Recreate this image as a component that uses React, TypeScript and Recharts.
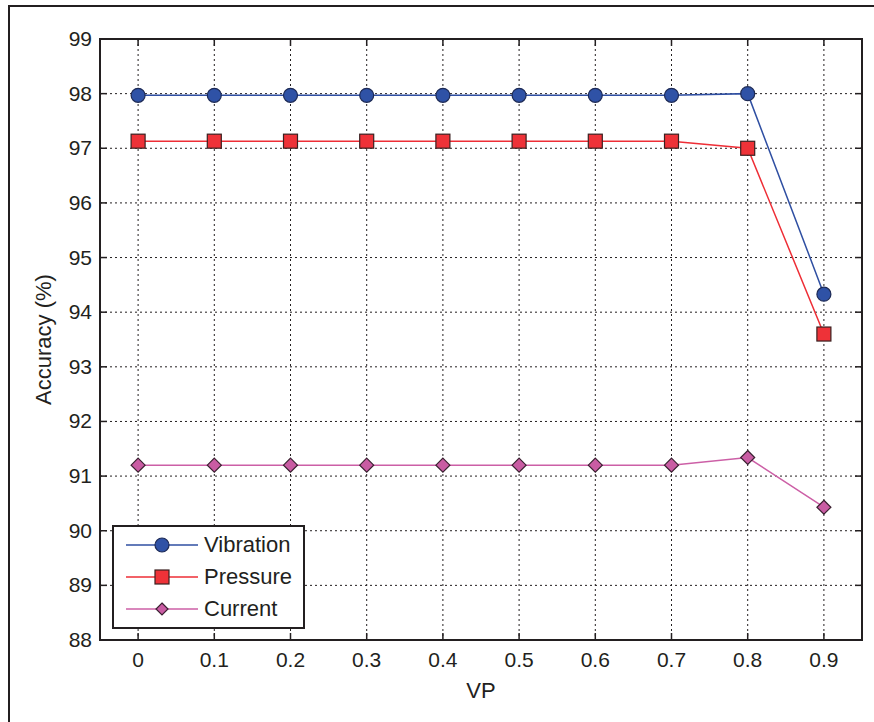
import React from 'react'
import {
  LineChart,
  Line,
  XAxis,
  YAxis,
  CartesianGrid,
  ReferenceArea,
} from 'recharts'

const vpValues = [0, 0.1, 0.2, 0.3, 0.4, 0.5, 0.6, 0.7, 0.8, 0.9]
const vibration = [97.97, 97.97, 97.97, 97.97, 97.97, 97.97, 97.97, 97.97, 98.0, 94.33]
const pressure = [97.13, 97.13, 97.13, 97.13, 97.13, 97.13, 97.13, 97.13, 97.0, 93.6]
const current = [91.2, 91.2, 91.2, 91.2, 91.2, 91.2, 91.2, 91.2, 91.34, 90.43]
const yTicks = [88, 89, 90, 91, 92, 93, 94, 95, 96, 97, 98, 99]

const data = vpValues.map((vp, i) => ({
  vp,
  vibration: vibration[i],
  pressure: pressure[i],
  current: current[i],
}))

const FONT = '"Liberation Sans", Arial, Helvetica, sans-serif'
const PLOT_LEFT = 100
const PLOT_RIGHT = 862
const PLOT_TOP = 39
const PLOT_BOTTOM = 640
const INK = '#231f20'

const BLUE = '#2f4fa2'
const RED = '#ee2e36'
const PINK = '#cc5fa6'

function Circle({ cx, cy, size = 7 }: any) {
  return <circle cx={cx} cy={cy} r={size} fill="#2f52a6" stroke="#1d2a55" strokeWidth={1.2} />
}

function Square({ cx, cy, size = 7 }: any) {
  return <rect x={cx - size} y={cy - size} width={size * 2} height={size * 2} fill="#ee3238" stroke="#3a2020" strokeWidth={1.2} />
}

function Diamond({ cx, cy, size = 7 }: any) {
  return (
    <polygon
      points={`${cx},${cy - size} ${cx + size},${cy} ${cx},${cy + size} ${cx - size},${cy}`}
      fill="#c95ca3"
      stroke="#3a2030"
      strokeWidth={1.2}
    />
  )
}

const legendItems = [
  { label: 'Vibration', color: BLUE, Marker: Circle },
  { label: 'Pressure', color: RED, Marker: Square },
  { label: 'Current', color: PINK, Marker: Diamond },
]

function YTick({ y, payload }: any) {
  return (
    <g>
      <line x1={PLOT_LEFT} x2={PLOT_LEFT + 7} y1={y} y2={y} stroke={INK} strokeWidth={1.5} />
      <line x1={PLOT_RIGHT - 7} x2={PLOT_RIGHT} y1={y} y2={y} stroke={INK} strokeWidth={1.5} />
      <text x={PLOT_LEFT - 8} y={y} dy={7} textAnchor="end" fontSize={21} fontFamily={FONT} fill={INK}>
        {payload.value}
      </text>
    </g>
  )
}

function XTick({ x, payload }: any) {
  return (
    <g>
      <line x1={x} x2={x} y1={PLOT_BOTTOM} y2={PLOT_BOTTOM - 7} stroke={INK} strokeWidth={1.5} />
      <line x1={x} x2={x} y1={PLOT_TOP} y2={PLOT_TOP + 7} stroke={INK} strokeWidth={1.5} />
      <text x={x} y={PLOT_BOTTOM + 27} textAnchor="middle" fontSize={21} fontFamily={FONT} fill={INK}>
        {payload.value}
      </text>
    </g>
  )
}

function LegendBox() {
  return (
    <div
      style={{
        position: 'absolute',
        left: 112,
        top: 525,
        width: 193,
        height: 104,
        border: `2px solid ${INK}`,
        background: '#fff',
        boxSizing: 'border-box',
        fontFamily: FONT,
        fontSize: 22,
        color: INK,
        paddingTop: 2,
      }}
    >
      {legendItems.map(({ label, color, Marker }) => (
        <div key={label} style={{ display: 'flex', alignItems: 'center', height: 32 }}>
          <svg width={90} height={24} style={{ marginLeft: 12 }}>
            <line x1={0} x2={72} y1={12} y2={12} stroke={color} strokeWidth={1.5} />
            <Marker cx={36} cy={12} size={label === 'Current' ? 6 : 7} />
          </svg>
          <span style={{ marginLeft: -12 }}>{label}</span>
        </div>
      ))}
    </div>
  )
}

export default function App() {
  return (
    <div style={{ position: 'absolute', left: 0, top: 0, width: 874, height: 722, background: '#fff', overflow: 'hidden' }}>
      <div
        style={{
          position: 'absolute',
          left: 8,
          top: 5,
          width: 900,
          height: 800,
          borderLeft: `2px solid ${INK}`,
          borderTop: `2px solid ${INK}`,
        }}
      />
      <LineChart
        width={874}
        height={722}
        data={data}
        margin={{ top: PLOT_TOP, right: 874 - PLOT_RIGHT, bottom: 20, left: 10 }}
        style={{ position: 'absolute', left: 0, top: 0 }}
      >
        <CartesianGrid stroke={INK} strokeDasharray="2 3" strokeWidth={1} />
        <XAxis
          dataKey="vp"
          type="number"
          domain={[-0.05, 0.95]}
          ticks={vpValues}
          height={62}
          axisLine={false}
          tickLine={false}
          tick={<XTick />}
          label={{ value: 'VP', position: 'insideBottom', offset: 4, fontSize: 22, fontFamily: FONT, fill: INK }}
        />
        <YAxis
          type="number"
          domain={[88, 99]}
          ticks={yTicks}
          width={90}
          axisLine={false}
          tickLine={false}
          tick={<YTick />}
          label={{
            value: 'Accuracy (%)',
            angle: -90,
            position: 'insideLeft',
            offset: 33,
            fontSize: 22,
            fontFamily: FONT,
            fill: INK,
            style: { textAnchor: 'middle' },
          }}
        />
        <ReferenceArea x1={-0.05} x2={0.95} y1={88} y2={99} fill="none" stroke={INK} strokeWidth={2} ifOverflow="visible" />
        <Line dataKey="vibration" stroke={BLUE} strokeWidth={1.5} dot={<Circle />} isAnimationActive={false} />
        <Line dataKey="pressure" stroke={RED} strokeWidth={1.5} dot={<Square />} isAnimationActive={false} />
        <Line dataKey="current" stroke={PINK} strokeWidth={1.5} dot={<Diamond />} isAnimationActive={false} />
      </LineChart>
      <LegendBox />
    </div>
  )
}
